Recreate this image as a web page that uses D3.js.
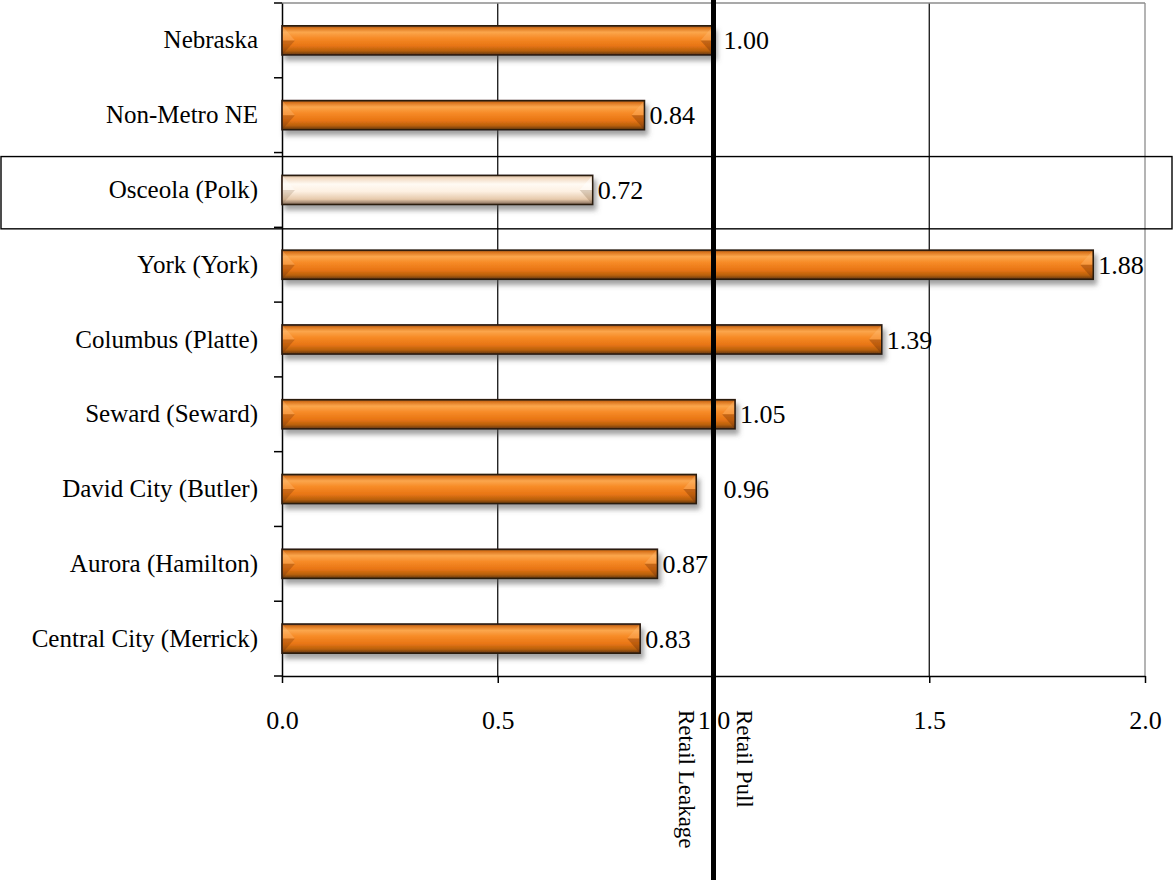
<!DOCTYPE html>
<html><head><meta charset="utf-8">
<script src="https://cdn.jsdelivr.net/npm/d3@7"></script>
<style>
body{margin:0;background:#fff}
svg{display:block}
text{font-family:"Liberation Serif","Times New Roman",serif;fill:#000}
</style>
</head><body><svg id="c" width="1173" height="880"></svg>
<script>
// ---- data ----
const categories = ["Nebraska","Non-Metro NE","Osceola (Polk)","York (York)","Columbus (Platte)","Seward (Seward)","David City (Butler)","Aurora (Hamilton)","Central City (Merrick)"];
const values = [1.00, 0.84, 0.72, 1.88, 1.39, 1.05, 0.96, 0.87, 0.83];
const highlighted = ["Osceola (Polk)"];
const xTicks = [0, 0.5, 1.0, 1.5, 2.0];
const referenceValue = 1.0;
const referenceNotes = ["Retail Leakage", "Retail Pull"];

// ---- layout ----
const W = 1173, H = 880;
const L = 282, R = 1145, T = 3, B = 676;
const svg = d3.select("#c");
const x = d3.scaleLinear().domain([0, 2]).range([L, R]);
const y = d3.scaleBand().domain(categories).range([T, B]).padding(0);
const barH = y.bandwidth() * 0.39;
const data = categories.map((c, i) => ({c, v: values[i], hi: highlighted.includes(c)}));

// ---- defs ----
const defs = svg.append("defs");
function grad(id, stops) {
  const g = defs.append("linearGradient").attr("id", id).attr("x1", 0).attr("y1", 0).attr("x2", 0).attr("y2", 1);
  stops.forEach(([o, c]) => g.append("stop").attr("offset", o).attr("stop-color", c));
}
grad("gOrange", [[0,"#7a4a22"],[0.07,"#d9731c"],[0.22,"#fba64c"],[0.42,"#f78b27"],[0.68,"#e87514"],[0.86,"#b8600e"],[1,"#5e3514"]]);
grad("gCream", [[0,"#a89078"],[0.08,"#f1d8bf"],[0.3,"#fffaf3"],[0.55,"#fdf0e2"],[0.82,"#e6c9ab"],[1,"#7d6554"]]);
const f = defs.append("filter").attr("id", "shadow").attr("x", "-5%").attr("y", "-30%").attr("width", "115%").attr("height", "190%");
f.append("feDropShadow").attr("dx", 3).attr("dy", 5).attr("stdDeviation", 2.6)
  .attr("flood-color", "#555").attr("flood-opacity", 0.55);

// ---- gridlines & frame ----
svg.append("g").selectAll("line").data(xTicks.filter(t => t > 0 && t < 2)).join("line")
  .attr("x1", d => x(d)).attr("x2", d => x(d)).attr("y1", T).attr("y2", B)
  .attr("stroke", "#000").attr("stroke-width", 1.2);
svg.append("line").attr("x1", L).attr("x2", R).attr("y1", T).attr("y2", T).attr("stroke", "#8c8c8c").attr("stroke-width", 1.3);
svg.append("line").attr("x1", R).attr("x2", R).attr("y1", T).attr("y2", B).attr("stroke", "#8c8c8c").attr("stroke-width", 1.3);

// ---- bottom axis ----
const xa = svg.append("g").attr("transform", `translate(0,${B})`)
  .call(d3.axisBottom(x).tickValues(xTicks).tickFormat(d3.format(".1f")).tickSize(7).tickPadding(28).tickSizeOuter(0));
xa.select(".domain").attr("stroke", "#000").attr("stroke-width", 1.5);
xa.selectAll(".tick line").attr("stroke", "#000").attr("stroke-width", 1.5);
xa.selectAll("text").attr("font-size", 26).attr("font-family", "Liberation Serif");

// ---- left axis ----
const ya = svg.append("g").attr("transform", `translate(${L},0)`)
  .call(d3.axisLeft(y).tickSize(0).tickPadding(24).tickSizeOuter(0));
ya.select(".domain").attr("stroke", "#000").attr("stroke-width", 1.5);
ya.selectAll("text").attr("font-size", 25).attr("font-family", "Liberation Serif");
const bounds = categories.map(c => y(c)).concat([B]);
svg.append("g").selectAll("line").data(bounds).join("line")
  .attr("x1", L - 8).attr("x2", L).attr("y1", d => d).attr("y2", d => d)
  .attr("stroke", "#000").attr("stroke-width", 1.5);

// ---- bars ----
const bars = svg.append("g").selectAll("g").data(data).join("g").attr("filter", "url(#shadow)");
bars.append("rect")
  .attr("x", x(0)).attr("y", d => y(d.c) + (y.bandwidth() - barH) / 2)
  .attr("width", d => x(d.v) - x(0)).attr("height", barH)
  .attr("fill", d => d.hi ? "url(#gCream)" : "url(#gOrange)")
  .attr("stroke", "#2a1a10").attr("stroke-width", 1.6);
// bevel facets at bar ends
const bev = 12;
bars.each(function(d) {
  const g = d3.select(this);
  const y0 = y(d.c) + (y.bandwidth() - barH) / 2, y1 = y0 + barH, x1 = x(d.v) - 1, x0 = x(0) + 1;
  const m = (y0 + y1) / 2;
  g.append("polygon").attr("points", [[x1, y0 + 1], [x1 - bev, m], [x1, m]].join(" "))
    .attr("fill", d.hi ? "rgba(255,255,255,0.45)" : "rgba(255,190,120,0.35)");
  g.append("polygon").attr("points", [[x1, m], [x1 - bev, m], [x1, y1 - 1]].join(" "))
    .attr("fill", d.hi ? "rgba(120,90,60,0.25)" : "rgba(90,35,0,0.3)");
  g.append("polygon").attr("points", [[x0, y0 + 1], [x0 + bev, m], [x0, m]].join(" "))
    .attr("fill", d.hi ? "rgba(255,255,255,0.35)" : "rgba(255,200,140,0.3)");
  g.append("polygon").attr("points", [[x0, m], [x0 + bev, m], [x0, y1 - 1]].join(" "))
    .attr("fill", d.hi ? "rgba(120,90,60,0.2)" : "rgba(90,35,0,0.25)");
});

// ---- value labels (kept clear of the reference line) ----
const labelW = 44;
svg.append("g").selectAll("text").data(data).join("text")
  .attr("x", d => {
    let px = x(d.v) + 5;
    const rx = x(referenceValue);
    if (px < rx + 10 && px + labelW > rx - 3) px = rx + 10;
    return px;
  })
  .attr("y", d => y(d.c) + y.bandwidth() / 2 + 9)
  .attr("font-size", 26).text(d => d3.format(".2f")(d.v));

// ---- highlight box ----
highlighted.forEach(c => {
  svg.append("rect").attr("x", 1).attr("y", y(c) + 4).attr("width", W - 2).attr("height", y.bandwidth() - 2.5)
    .attr("fill", "none").attr("stroke", "#000").attr("stroke-width", 1.4);
});

// ---- reference line ----
svg.append("line").attr("x1", x(referenceValue)).attr("x2", x(referenceValue)).attr("y1", 0).attr("y2", H)
  .attr("stroke", "#000").attr("stroke-width", 5);
svg.append("text").attr("transform", `translate(${x(referenceValue) - 35},710) rotate(90)`)
  .attr("font-size", 23).text(referenceNotes[0]);
svg.append("text").attr("transform", `translate(${x(referenceValue) + 23},710) rotate(90)`)
  .attr("font-size", 23).text(referenceNotes[1]);
</script>
</body></html>
